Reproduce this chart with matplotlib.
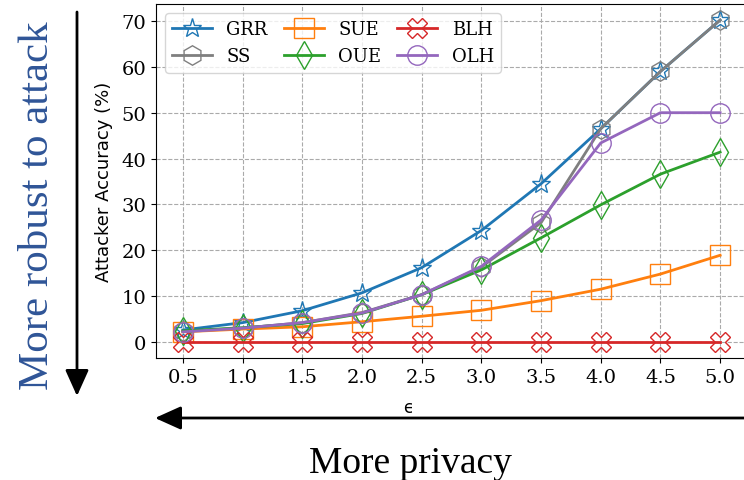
import numpy as np
import matplotlib
matplotlib.use("Agg")
import matplotlib.pyplot as plt

plt.rcParams["font.family"] = "DejaVu Serif"

eps = [0.5, 1.0, 1.5, 2.0, 2.5, 3.0, 3.5, 4.0, 4.5, 5.0]
grr = [2.6, 4.2, 6.8, 10.7, 16.2, 24.3, 34.5, 46.5, 59.0, 70.2]
ss = [2.3, 3.0, 4.2, 6.4, 10.3, 16.3, 26.0, 46.5, 59.0, 70.2]
sue = [2.2, 2.8, 3.3, 4.4, 5.6, 6.9, 9.0, 11.5, 14.8, 18.9]
oue = [2.4, 3.1, 4.0, 6.2, 10.3, 15.7, 22.7, 29.9, 36.6, 41.4]
blh = [0, 0, 0, 0, 0, 0, 0, 0, 0, 0]
olh = [2.2, 3.0, 4.2, 6.3, 10.3, 16.5, 26.6, 43.4, 50.0, 50.0]

series = [
    ("GRR", grr, "tab:blue", "*"),
    ("SS", ss, "tab:gray", "h"),
    ("SUE", sue, "tab:orange", "s"),
    ("OUE", oue, "tab:green", "d"),
    ("BLH", blh, "tab:red", "X"),
    ("OLH", olh, "tab:purple", "o"),
]

fig = plt.figure(figsize=(7.44, 4.81), dpi=100)
ax = fig.add_axes([156 / 744, 122 / 481, 591 / 744, 354 / 481])

for name, vals, col, mk in series:
    ax.plot(eps, vals, color=col, marker=mk, markersize=14, fillstyle="none",
            markeredgewidth=1.0, linewidth=2, label=name)

ax.set_xticks(eps)
ax.set_yticks(range(0, 71, 10))
ax.tick_params(labelsize=14)
ax.grid(True, linestyle="--", color="#aaaaaa", linewidth=0.8)

ax.set_ylabel("Attacker Accuracy (%)", fontsize=13, family="DejaVu Sans")
ax.yaxis.set_label_coords(-0.073, 0.5)
ax.set_xlabel("\u03f5", fontsize=12, family="DejaVu Sans")
ax.xaxis.set_label_coords(0.426, -0.112)

ax.legend(ncol=3, loc="upper left", fontsize=13, columnspacing=0.9,
          handlelength=2.2, handletextpad=0.8, borderaxespad=0.5)

# annotations around the plot
arrow = "-|>,head_length=1.0,head_width=0.45"
fig.add_artist(matplotlib.patches.FancyArrowPatch(
    (77, 468), (77, 84), transform=None, arrowstyle=arrow, shrinkA=0, shrinkB=0,
    mutation_scale=16, color="black", linewidth=2))
fig.add_artist(matplotlib.patches.FancyArrowPatch(
    (746, 62), (155, 62), transform=None, arrowstyle=arrow, shrinkA=0, shrinkB=0,
    mutation_scale=16, color="black", linewidth=2))

fig.text(38 / 744, 275 / 481, "More robust to attack", rotation=90,
         ha="center", va="center", fontsize=31, color="#2F5597",
         family="Liberation Serif")
fig.text(410 / 744, 8 / 481, "More privacy", ha="center", va="baseline",
         fontsize=27, color="black", family="Liberation Serif")

fig.savefig("out.png", dpi=100)
